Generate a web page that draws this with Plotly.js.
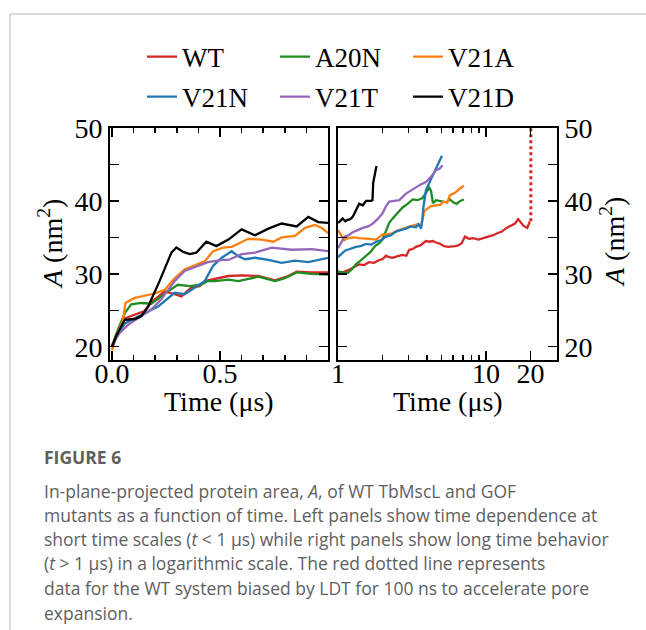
<!DOCTYPE html>
<html>
<head>
<meta charset="utf-8">
<script src="https://cdn.plot.ly/plotly-3.0.1.min.js"></script>
<style>
  html, body { margin: 0; padding: 0; background: #ffffff; }
  #chart { width: 646px; height: 630px; }
</style>
</head>
<body>
<div id="chart"></div>
<script>
// ---------- Data ----------
// Short time scale (t < 1 us), linear axis
var WT_short_t   = [0, 0.02, 0.059, 0.105, 0.151, 0.182, 0.244, 0.29, 0.321, 0.367, 0.406, 0.429, 0.477, 0.539, 0.6, 0.677, 0.755, 0.816, 0.855, 0.924, 1.0];
var WT_short_A   = [20.0, 21.5, 23.9, 24.4, 24.9, 26.1, 27.6, 27.2, 26.9, 28.1, 28.3, 29.0, 29.3, 29.7, 29.8, 29.7, 29.1, 29.7, 30.3, 30.2, 30.2];

var A20N_short_t = [0, 0.02, 0.059, 0.089, 0.136, 0.182, 0.228, 0.259, 0.305, 0.36, 0.413, 0.444, 0.477, 0.539, 0.585, 0.631, 0.677, 0.755, 0.801, 0.855, 0.924, 1.0];
var A20N_short_A = [20.0, 21.8, 24.6, 25.8, 26.0, 25.9, 26.9, 27.6, 28.5, 28.3, 28.5, 29.0, 29.0, 29.2, 29.0, 29.3, 29.6, 29.0, 29.4, 30.2, 30.0, 29.9];

var V21A_short_t = [0, 0.02, 0.05, 0.062, 0.105, 0.151, 0.197, 0.244, 0.29, 0.336, 0.39, 0.429, 0.468, 0.514, 0.554, 0.631, 0.693, 0.747, 0.785, 0.847, 0.894, 0.94, 0.971, 1.0];
var V21A_short_A = [19.5, 21.5, 23.5, 26.0, 26.7, 27.0, 27.3, 27.8, 29.4, 30.6, 31.3, 31.7, 33.1, 33.6, 33.7, 34.8, 34.7, 34.4, 35.0, 35.2, 36.3, 36.7, 36.3, 35.6];

var V21N_short_t = [0, 0.02, 0.059, 0.136, 0.213, 0.29, 0.336, 0.382, 0.429, 0.468, 0.508, 0.554, 0.585, 0.616, 0.662, 0.724, 0.785, 0.847, 0.909, 1.0];
var V21N_short_A = [20.0, 21.3, 23.2, 24.4, 25.5, 27.4, 27.2, 28.1, 29.0, 31.1, 32.2, 33.1, 32.4, 32.0, 32.2, 31.9, 31.5, 31.8, 31.6, 32.2];

var V21T_short_t = [0, 0.036, 0.074, 0.136, 0.182, 0.228, 0.29, 0.336, 0.398, 0.444, 0.514, 0.539, 0.6, 0.662, 0.739, 0.832, 0.924, 1.0];
var V21T_short_A = [20.3, 21.9, 23.0, 24.2, 25.1, 26.5, 29.0, 30.4, 31.1, 31.6, 31.9, 31.9, 32.7, 32.9, 33.6, 33.3, 33.4, 33.1];

var V21D_short_t = [0, 0.02, 0.059, 0.105, 0.136, 0.167, 0.22, 0.275, 0.298, 0.33, 0.36, 0.39, 0.437, 0.483, 0.539, 0.6, 0.662, 0.724, 0.785, 0.855, 0.909, 0.955, 1.0];
var V21D_short_A = [20.0, 21.5, 23.7, 23.8, 24.2, 25.5, 29.0, 32.9, 33.6, 33.0, 32.7, 32.9, 34.4, 33.8, 34.7, 36.1, 35.3, 36.2, 36.9, 36.5, 37.8, 37.1, 37.0];

// Long time scale (t > 1 us), logarithmic axis
var WT_long_t   = [1.0, 1.08, 1.17, 1.28, 1.39, 1.5, 1.62, 1.75, 1.9, 2.0, 2.11, 2.22, 2.34, 2.5, 2.73, 2.9, 3.03, 3.2, 3.37, 3.6, 3.93, 4.15, 4.37, 4.6, 4.93, 5.2, 5.56, 6.17, 6.5, 6.85, 7.21, 7.7, 8.2, 8.9, 9.6, 10.4, 11.2, 12.0, 12.8, 13.8, 14.9, 15.7, 16.5, 17.2, 17.9, 19.0, 19.8];
var WT_long_A   = [30.3, 30.2, 30.5, 30.9, 31.3, 31.2, 31.6, 31.5, 31.9, 32.0, 32.5, 32.3, 32.2, 32.4, 32.6, 32.5, 33.3, 33.4, 33.7, 33.9, 34.5, 34.4, 34.5, 34.3, 34.1, 33.8, 33.7, 33.8, 33.9, 34.2, 35.1, 34.8, 34.9, 34.7, 34.9, 35.1, 35.3, 35.6, 35.8, 36.3, 36.7, 36.9, 37.5, 37.0, 36.6, 36.3, 37.2];
var WT_ldt_t    = [20.1, 20.1];
var WT_ldt_A    = [37.2, 50.5];

var A20N_long_t = [1.0, 1.08, 1.16, 1.24, 1.32, 1.42, 1.55, 1.66, 1.78, 1.9, 2.0, 2.1, 2.22, 2.34, 2.46, 2.6, 2.73, 2.95, 3.2, 3.45, 3.73, 3.9, 4.04, 4.14, 4.25, 4.38, 4.6, 5.0, 5.4, 5.71, 6.0, 6.34, 6.7, 7.1];
var A20N_long_A = [30.3, 30.2, 30.1, 30.6, 31.3, 31.8, 32.4, 33.0, 33.8, 34.2, 34.7, 35.8, 37.0, 37.6, 38.1, 38.6, 39.1, 39.6, 40.2, 40.1, 40.4, 41.0, 41.5, 41.8, 41.4, 39.7, 40.1, 39.9, 39.8, 40.2, 39.8, 39.6, 40.0, 40.2];

var V21A_long_t = [1.0, 1.05, 1.1, 1.17, 1.28, 1.39, 1.5, 1.62, 1.81, 2.0, 2.17, 2.34, 2.5, 2.73, 2.95, 3.2, 3.45, 3.64, 3.75, 3.83, 4.0, 4.25, 4.6, 4.93, 5.15, 5.48, 5.71, 6.17, 6.67, 7.1];
var V21A_long_A = [36.0, 35.3, 34.6, 34.9, 35.0, 34.9, 34.9, 34.8, 34.7, 35.4, 35.4, 35.6, 35.9, 36.2, 36.4, 36.6, 36.8, 36.5, 37.5, 38.6, 38.9, 39.3, 39.4, 39.5, 39.9, 39.8, 40.8, 41.1, 41.7, 42.1];

var V21N_long_t = [1.0, 1.06, 1.12, 1.2, 1.32, 1.42, 1.55, 1.68, 1.81, 1.95, 2.11, 2.28, 2.46, 2.65, 2.88, 3.1, 3.37, 3.5, 3.64, 3.72, 3.78, 3.93, 4.1, 4.25, 4.4, 4.59, 4.8, 5.04];
var V21N_long_A = [32.3, 32.8, 33.2, 33.4, 33.7, 33.8, 34.1, 34.0, 34.4, 34.6, 35.1, 35.3, 35.8, 36.0, 36.2, 36.5, 36.4, 36.8, 36.2, 37.5, 39.2, 41.5, 42.3, 43.1, 43.6, 44.4, 45.2, 46.2];

var V21T_long_t = [1.0, 1.05, 1.104, 1.18, 1.256, 1.36, 1.47, 1.6, 1.72, 1.85, 2.0, 2.1, 2.22, 2.4, 2.6, 2.88, 3.1, 3.37, 3.65, 3.93, 4.25, 4.59, 4.85, 5.09];
var V21T_long_A = [33.5, 34.3, 35.1, 35.3, 35.7, 36.0, 36.3, 36.5, 36.9, 37.5, 38.3, 39.2, 39.9, 40.0, 40.1, 41.0, 41.4, 41.9, 42.3, 42.6, 43.3, 44.2, 44.4, 44.9];

var V21D_long_t = [1.0, 1.02, 1.075, 1.12, 1.16, 1.21, 1.256, 1.32, 1.39, 1.47, 1.55, 1.67, 1.71, 1.73, 1.78, 1.82];
var V21D_long_A = [37.0, 37.1, 37.6, 37.2, 37.4, 37.5, 37.8, 38.7, 39.6, 39.4, 40.0, 40.0, 40.1, 42.5, 43.6, 44.8];

var seriesNames  = ['WT', 'A20N', 'V21A', 'V21N', 'V21T', 'V21D'];
var seriesColors = ['#d62728', '#1f8c1f', '#ff7f0e', '#1f77b4', '#9467bd', '#000000'];

var yTickVals   = [20, 30, 40, 50];
var yTickText   = ['20', '30', '40', '50'];
var yMinorVals  = [25, 35, 45];
var x1TickVals  = [0, 0.5];
var x1TickText  = ['0.0', '0.5'];
var x2TickVals  = [1, 10, 20];
var x2TickText  = ['1', '10', '20'];
var x2MinorVals = [2, 3, 4, 5, 6, 7, 8, 9, 30];

var xTitleText = 'Time (μs)';
var yTitleText = '<i>A</i> (nm<sup>2</sup>)';

var captionTitle = 'FIGURE 6';
var captionLines = [
  'In-plane-projected protein area, <i>A</i>, of WT TbMscL and GOF',
  'mutants as a function of time. Left panels show time dependence at',
  'short time scales (<i>t</i> &lt; 1 μs) while right panels show long time behavior',
  '(<i>t</i> &gt; 1 μs) in a logarithmic scale. The red dotted line represents',
  'data for the WT system biased by LDT for 100 ns to accelerate pore',
  'expansion.'
];

// ---------- Figure ----------
var W = 646, H = 630;
function px(x) { return x / W; }
function py(y) { return 1 - y / H; }

var shortT = [WT_short_t, A20N_short_t, V21A_short_t, V21N_short_t, V21T_short_t, V21D_short_t];
var shortA = [WT_short_A, A20N_short_A, V21A_short_A, V21N_short_A, V21T_short_A, V21D_short_A];
var longT  = [WT_long_t, A20N_long_t, V21A_long_t, V21N_long_t, V21T_long_t, V21D_long_t];
var longA  = [WT_long_A, A20N_long_A, V21A_long_A, V21N_long_A, V21T_long_A, V21D_long_A];

var LW = 2.3;
var traces = [];
for (var i = 0; i < seriesNames.length; i++) {
  traces.push({
    x: shortT[i], y: shortA[i], type: 'scatter', mode: 'lines',
    name: seriesNames[i], legendgroup: seriesNames[i],
    legend: i < 3 ? 'legend' : 'legend2',
    line: { color: seriesColors[i], width: LW },
    xaxis: 'x', yaxis: 'y', showlegend: true
  });
}
for (var j = 0; j < seriesNames.length; j++) {
  traces.push({
    x: longT[j], y: longA[j], type: 'scatter', mode: 'lines',
    name: seriesNames[j], legendgroup: seriesNames[j],
    line: { color: seriesColors[j], width: LW },
    xaxis: 'x2', yaxis: 'y2', showlegend: false
  });
}
traces.push({
  x: WT_ldt_t, y: WT_ldt_A, type: 'scatter', mode: 'lines',
  name: 'WT (LDT)', legendgroup: 'WT',
  line: { color: seriesColors[0], width: 3, dash: 'dot' },
  xaxis: 'x2', yaxis: 'y2', showlegend: false
});

var serif = 'Liberation Serif, Times New Roman, serif';
var sans = 'Open Sans, Lato, sans-serif';
var tickFont = { family: serif, size: 28, color: '#000' };
var titleFont = { family: serif, size: 28, color: '#000' };

var yMinor = { ticks: 'inside', ticklen: 9, tickwidth: 1.5, tickcolor: '#000', tickmode: 'array', tickvals: yMinorVals, showgrid: false };

var commonAxis = {
  showline: true, linewidth: 2, linecolor: '#000', mirror: 'allticks',
  ticks: 'inside', ticklen: 9, tickwidth: 1.5, tickcolor: '#000',
  showgrid: false, zeroline: false, tickfont: tickFont, fixedrange: true
};
function ax(extra) { return Object.assign({}, commonAxis, extra); }

var yDomain = [py(360), py(128)];

var annotations = [];
// axis titles
annotations.push({ text: xTitleText, x: px(219), y: py(402), xref: 'paper', yref: 'paper',
  xanchor: 'center', yanchor: 'middle', showarrow: false, font: titleFont });
annotations.push({ text: xTitleText, x: px(448), y: py(402), xref: 'paper', yref: 'paper',
  xanchor: 'center', yanchor: 'middle', showarrow: false, font: titleFont });
annotations.push({ text: yTitleText, x: px(51), y: py(244), xref: 'paper', yref: 'paper',
  xanchor: 'center', yanchor: 'middle', showarrow: false, textangle: -90, font: titleFont });
annotations.push({ text: yTitleText, x: px(613), y: py(242), xref: 'paper', yref: 'paper',
  xanchor: 'center', yanchor: 'middle', showarrow: false, textangle: -90, font: titleFont });
// caption
annotations.push({ text: '<b>' + captionTitle + '</b>', x: px(42), y: py(457), xref: 'paper', yref: 'paper',
  xanchor: 'left', yanchor: 'middle', showarrow: false,
  font: { family: sans, size: 17.5, color: '#606060' } });
var capY = [491, 515, 539, 563, 588, 613];
for (var k = 0; k < captionLines.length; k++) {
  annotations.push({
    text: captionLines[k], x: px(42), y: py(capY[k]), xref: 'paper', yref: 'paper',
    xanchor: 'left', yanchor: 'middle', showarrow: false,
    font: { family: sans, size: 17.5, color: '#606060' }
  });
}

var legendCommon = {
  orientation: 'h', xanchor: 'left', yanchor: 'middle',
  entrywidth: 88, entrywidthmode: 'pixels', bgcolor: 'rgba(0,0,0,0)',
  font: { family: serif, size: 27, color: '#000' }, traceorder: 'normal'
};

var layout = {
  width: W, height: H,
  margin: { l: 0, r: 0, t: 0, b: 0, pad: 0 },
  paper_bgcolor: '#ffffff', plot_bgcolor: '#ffffff',
  font: { family: serif, size: 28, color: '#000' },
  xaxis: ax({
    domain: [px(110), px(328)], range: [-0.0093, 1.0], anchor: 'y',
    tickmode: 'array', tickvals: x1TickVals, ticktext: x1TickText, ticklabelstandoff: -13,
    minor: { ticks: 'inside', ticklen: 5, tickwidth: 1.5, tickcolor: '#000', dtick: 0.1, tick0: 0, showgrid: false }
  }),
  yaxis: ax({
    domain: yDomain, range: [18.18, 50], anchor: 'x',
    tickmode: 'array', tickvals: yTickVals, ticktext: yTickText, minor: yMinor
  }),
  xaxis2: ax({
    domain: [px(338), px(557)], type: 'log', range: [0, 1.48], anchor: 'y2',
    tickmode: 'array', tickvals: x2TickVals, ticktext: x2TickText, ticklabelstandoff: -13,
    minor: { ticks: 'inside', ticklen: 5, tickwidth: 1.5, tickcolor: '#000', tickmode: 'array', tickvals: x2MinorVals, showgrid: false }
  }),
  yaxis2: ax({
    domain: yDomain, range: [18.18, 50], anchor: 'x2', side: 'right',
    tickmode: 'array', tickvals: yTickVals, ticktext: yTickText, minor: yMinor
  }),
  legend: Object.assign({}, legendCommon, { x: px(142), y: py(57) }),
  legend2: Object.assign({}, legendCommon, { x: px(142), y: py(97) }),
  shapes: [
    { type: 'line', xref: 'paper', yref: 'paper', x0: px(10), x1: 1, y0: py(14), y1: py(14),
      line: { color: '#cfcfcf', width: 1.5 } },
    { type: 'line', xref: 'paper', yref: 'paper', x0: px(10), x1: px(10), y0: py(14), y1: 0,
      line: { color: '#cfcfcf', width: 1.5 } }
  ],
  annotations: annotations
};

Plotly.newPlot('chart', traces, layout, { displayModeBar: false, staticPlot: true });
</script>
</body>
</html>
